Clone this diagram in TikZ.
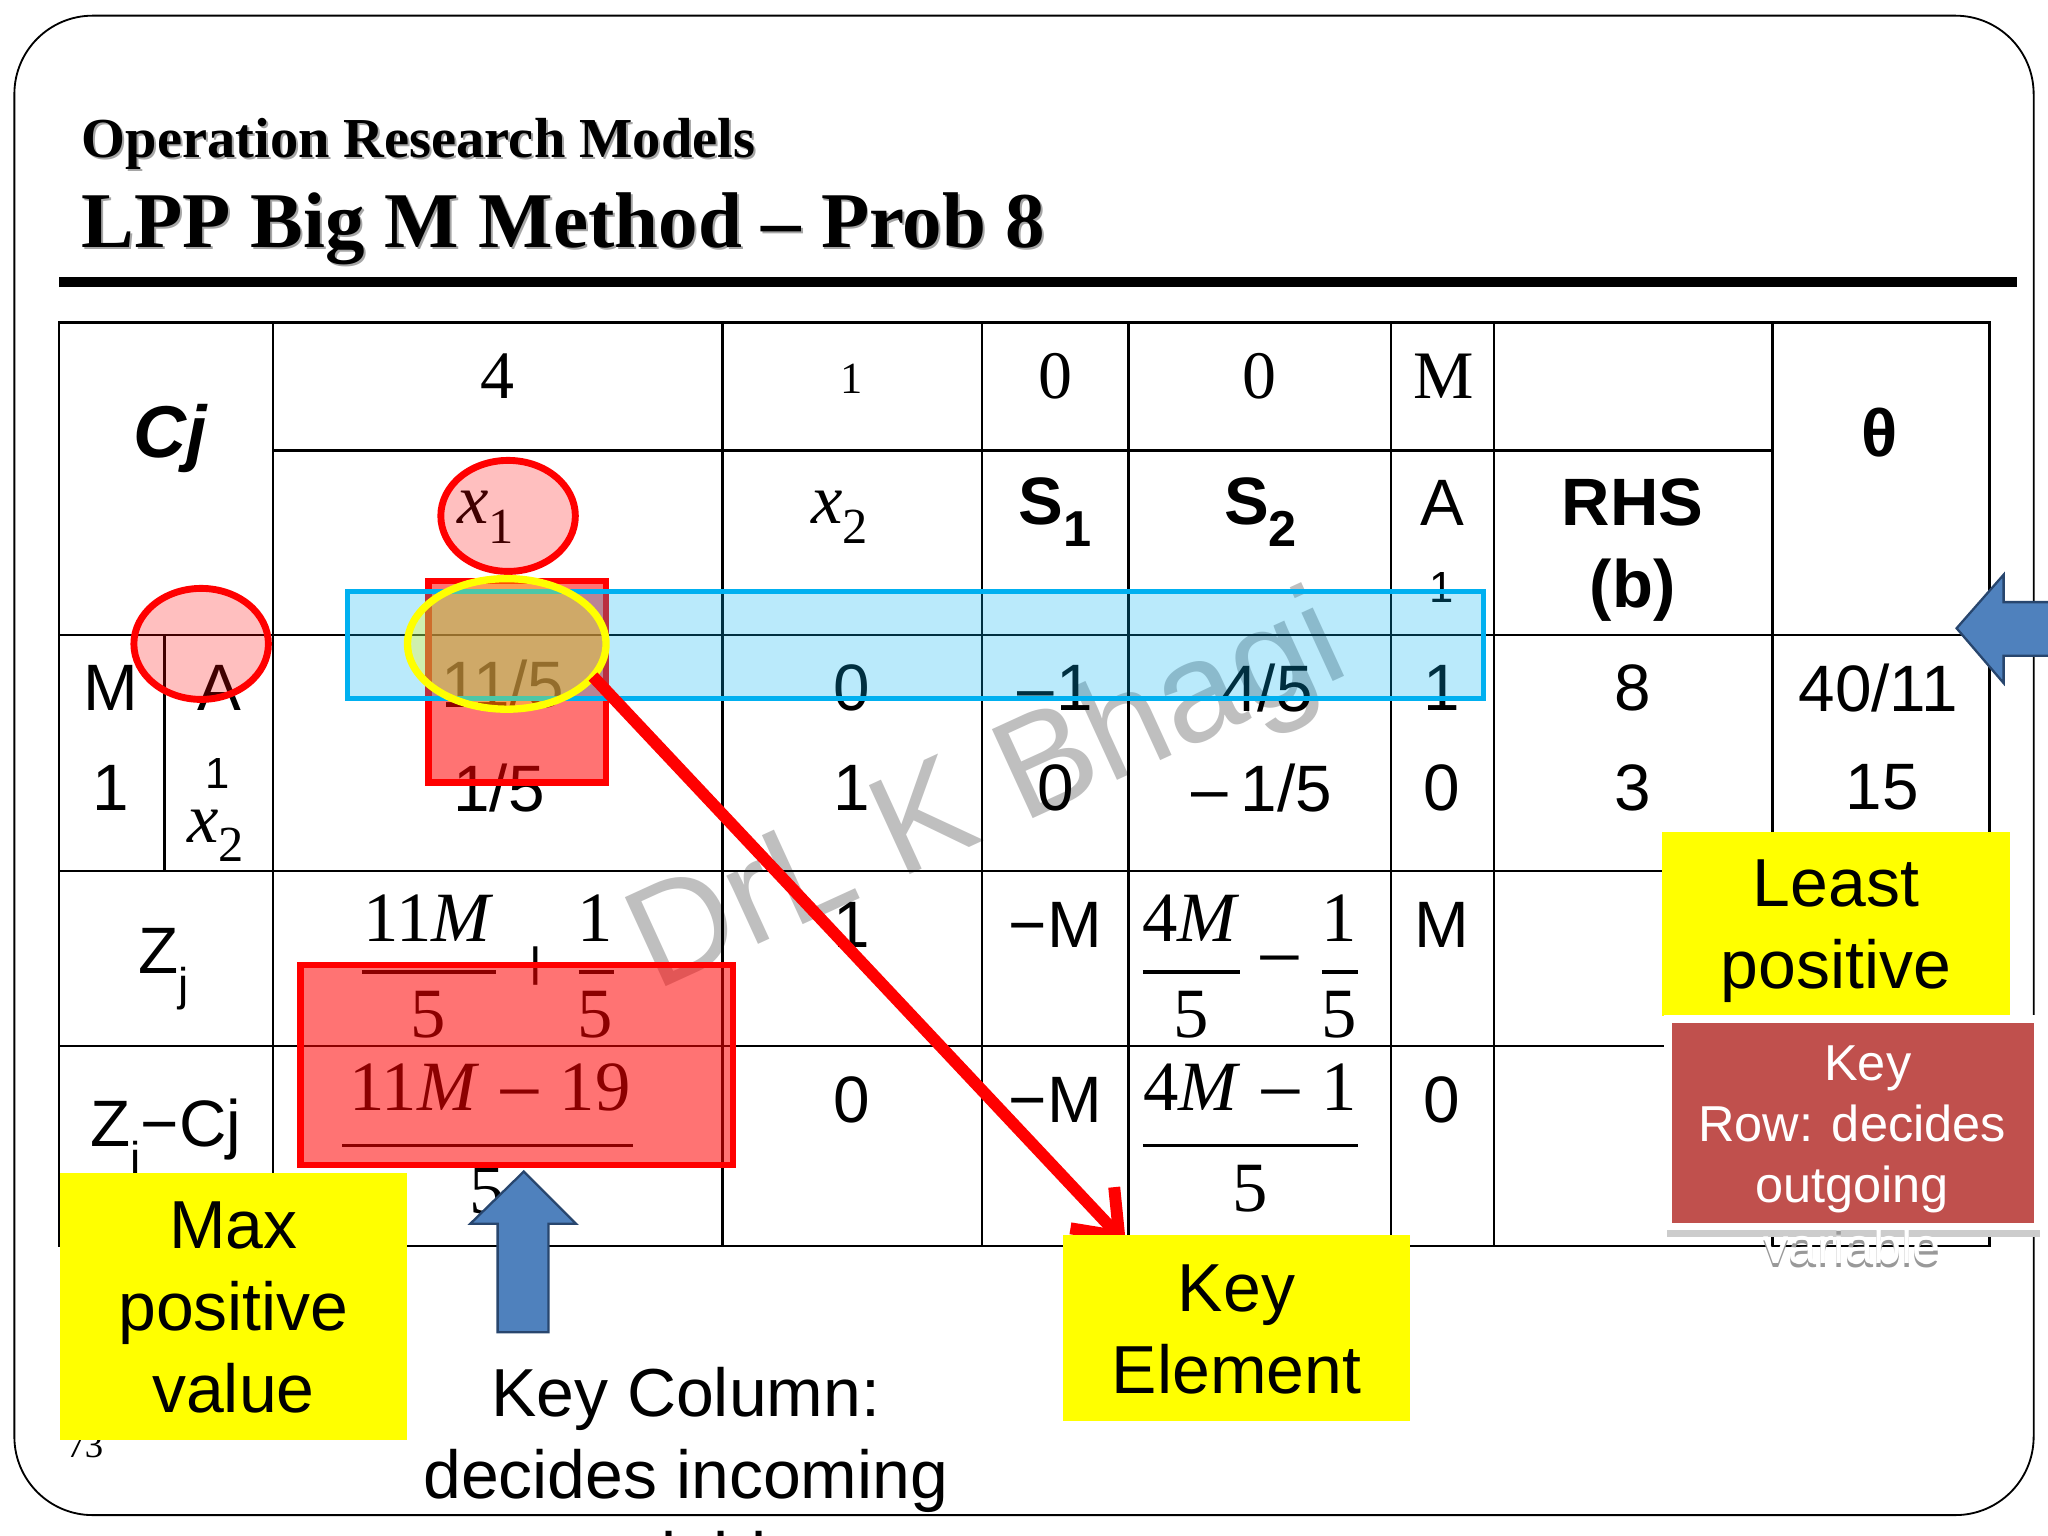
\documentclass[tikz,border=0pt]{standalone}
\usepackage{fontspec}
\setmainfont{Liberation Serif}
\setsansfont{Liberation Sans}
\usetikzlibrary{arrows.meta}
\usetikzlibrary{calc}
\usetikzlibrary{positioning}

\definecolor{keyred}{RGB}{192,80,77}
\definecolor{blockblue}{RGB}{79,129,189}
\definecolor{blockedge}{RGB}{40,70,110}
\definecolor{rowblue}{RGB}{0,176,240}
\definecolor{tagyellow}{RGB}{255,255,0}
\definecolor{ringred}{RGB}{255,0,0}

\newcommand{\lo}[1]{\raisebox{-0.6ex}{\fontsize{11}{11}\selectfont #1}}
\newcommand{\loj}[1]{\raisebox{-0.8ex}{\fontsize{10}{10}\selectfont #1}}
\newcommand{\mn}{\hspace{3.7pt}\raisebox{-2pt}{\fontsize{18}{18}\selectfont −}\hspace{3.7pt}}

\tikzset{
  gridline/.style={line width=0.55pt},
  cell/.style={font=\sffamily\fontsize{14.3}{18}\selectfont, inner sep=0pt},
  boldcell/.style={cell, font=\sffamily\bfseries\fontsize{14.6}{18}\selectfont},
  smallcell/.style={cell, font=\sffamily\fontsize{9.5}{10}\selectfont},
  headcell/.style={font=\fontsize{14.8}{18}\selectfont, inner sep=0pt},
  mathcell/.style={font=\fontsize{15.4}{18}\selectfont, inner sep=0pt},
  opcell/.style={font=\fontsize{18}{18}\selectfont, inner sep=0pt},
  fracbar/.style={line width=0.85pt},
  tag/.style={fill=tagyellow, inner sep=0pt, align=center, anchor=north west,
    font=\sffamily\fontsize{14.8}{17.85}\selectfont},
  pinkring/.style={draw=ringred, line width=1.5pt, fill=ringred, fill opacity=0.25, draw opacity=1},
  redbox/.style={draw=ringred, line width=1.4pt, fill=ringred, fill opacity=0.55, draw opacity=1},
  blockarrow/.style={draw=blockedge, line width=0.5pt, fill=blockblue},
  keyarrow/.style={-{Straight Barb[length=0.30cm,width=0.46cm]}, draw=ringred, line width=2.6pt}
}

\begin{document}
\begin{tikzpicture}[x=1cm,y=-1cm]
    \useasboundingbox (0,0) rectangle (15.68,11.76);

    % slide frame and heading
    \draw[line width=0.4pt, rounded corners=0.6cm] (0.11,0.12) rectangle (15.57,11.60);
    \node[anchor=west, inner sep=0pt, text=black!35, font=\bfseries\fontsize{12.3}{14}\selectfont] (subshadow) at (0.635,1.115) {Operation Research Models};
    \node[anchor=west, inner sep=0pt, font=\bfseries\fontsize{12.3}{14}\selectfont] (subtitle) at (0.62,1.10) {Operation Research Models};
    \node[anchor=west, inner sep=0pt, text=black!35, font=\bfseries\fontsize{17.2}{20}\selectfont] (titleshadow) at (0.635,1.765) {LPP Big M Method -- Prob 8};
    \node[anchor=west, inner sep=0pt, font=\bfseries\fontsize{17.2}{20}\selectfont] (title) at (0.62,1.75) {LPP Big M Method -- Prob 8};
    \fill (0.45,2.12) rectangle (15.44,2.20);

    % watermark
    \node[inner sep=0pt, anchor=base, rotate=24.6, text=black!25, font=\sffamily\fontsize{31}{36}\selectfont] (mark) at (7.69,6.37) {DrL K Bhagi};

    % table grid
    \draw[gridline] (0.45,2.47) rectangle (15.23,9.54);
    \foreach \xx in {2.09,5.53,7.52,8.64,10.65,11.44,13.57}
        \draw[gridline] (\xx,2.47) -- (\xx,9.54);
    \draw[gridline] (2.09,3.45) -- (13.57,3.45);
    \foreach \yy in {4.86,6.67,8.01}
        \draw[gridline] (0.45,\yy) -- (15.23,\yy);
    \draw[gridline] (1.26,4.86) -- (1.26,6.67);

    % cost row
    \node[boldcell, font=\sffamily\bfseries\itshape\fontsize{16}{18}\selectfont] (cj) at (1.30,3.36) {Cj};
    \node[headcell] (c1) at (3.81,2.88) {4};
    \node[headcell, font=\fontsize{9.7}{10}\selectfont] (c2) at (6.52,2.90) {1};
    \node[headcell] (c3) at (8.08,2.88) {0};
    \node[headcell] (c4) at (9.64,2.88) {0};
    \node[headcell] (c5) at (11.05,2.88) {M};
    \node[boldcell] (theta) at (14.39,3.31) {θ};

    % variable row
    \node[mathcell] (h1) at (3.72,3.96) {\textit{x}\lo{1}};
    \node[mathcell] (h2) at (6.43,3.96) {\textit{x}\lo{2}};
    \node[boldcell] (h3) at (8.08,3.92) {S\lo{\bfseries 1}};
    \node[boldcell] (h4) at (9.65,3.92) {S\lo{\bfseries 2}};
    \node[cell] (h5) at (11.04,3.85) {A};
    \node[smallcell] (h5b) at (11.04,4.50) {1};
    \node[boldcell] (rhs) at (12.50,3.85) {RHS};
    \node[boldcell] (rhsb) at (12.50,4.52) {(b)};

    % first row
    \node[cell] (a1) at (0.85,5.27) {M};
    \node[cell] (a2) at (1.68,5.27) {A};
    \node[cell] (a3) at (3.85,5.24) {11/5};
    \node[cell] (a4) at (6.52,5.27) {0};
    \node[cell] (a5) at (8.08,5.27) {–\kern0.05em 1};
    \node[cell] (a6) at (9.70,5.27) {4/5};
    \node[cell] (a7) at (11.04,5.27) {1};
    \node[cell] (a8) at (12.50,5.27) {8};
    \node[cell] (a9) at (14.38,5.27) {40/11};

    % second row
    \node[cell] (b1) at (0.85,6.03) {1};
    \node[smallcell] (b2) at (1.67,5.92) {1};
    \node[mathcell] (b2x) at (1.65,6.40) {\textit{x}\lo{2}};
    \node[cell] (b3) at (3.82,6.03) {1/5};
    \node[cell] (b4) at (6.52,6.03) {1};
    \node[cell] (b5) at (8.08,6.03) {0};
    \node[cell] (b6) at (9.66,6.03) {–\kern0.2em 1/5};
    \node[cell] (b7) at (11.04,6.03) {0};
    \node[cell] (b8) at (12.50,6.03) {3};
    \node[cell] (b9) at (14.41,6.03) {15};

    % Zj row
    \node[cell] (zj) at (1.25,7.42) {Z\loj{j}};
    \node[mathcell] (z1) at (3.28,7.03) {11\textit{M}};
    \draw[fracbar] (2.77,7.44) -- (3.80,7.44);
    \node[mathcell] (z1b) at (3.28,7.77) {5};
    \node[opcell] (z1p) at (4.10,7.43) {+};
    \node[mathcell] (z2) at (4.56,7.03) {1};
    \draw[fracbar] (4.43,7.44) -- (4.70,7.44);
    \node[mathcell] (z2b) at (4.56,7.77) {5};
    \node[cell] (z3) at (6.52,7.08) {1};
    \node[cell] (z4) at (8.08,7.08) {−M};
    \node[mathcell] (z5) at (9.12,7.03) {4\textit{M}};
    \draw[fracbar] (8.75,7.44) -- (9.49,7.44);
    \node[mathcell] (z5b) at (9.12,7.77) {5};
    \node[opcell] (z5m) at (9.80,7.43) {−};
    \node[mathcell] (z6) at (10.25,7.03) {1};
    \draw[fracbar] (10.12,7.44) -- (10.40,7.44);
    \node[mathcell] (z6b) at (10.25,7.77) {5};
    \node[cell] (z7) at (11.04,7.08) {M};

    % Zj-Cj row
    \node[cell] (zc) at (1.27,8.74) {Z\loj{j}−Cj};
    \node[mathcell] (d1) at (3.75,8.36) {11\textit{M}\mn 19};
    \draw[fracbar] (2.62,8.77) -- (4.85,8.77);
    \node[mathcell] (d1b) at (3.73,9.12) {5};
    \node[cell] (d2) at (6.52,8.42) {0};
    \node[cell] (d3) at (8.08,8.42) {−M};
    \node[mathcell] (d4) at (9.57,8.36) {4\textit{M}\mn 1};
    \draw[fracbar] (8.75,8.77) -- (10.40,8.77);
    \node[mathcell] (d4b) at (9.57,9.10) {5};
    \node[cell] (d5) at (11.04,8.42) {0};

    % key column, key row and key element
    \draw[pinkring] (3.89,3.95) ellipse[x radius=0.515, y radius=0.425];
    \draw[pinkring] (1.54,4.93) ellipse[x radius=0.515, y radius=0.425];
    \draw[redbox] (3.28,4.45) rectangle (4.64,5.99);
    \draw[redbox] (2.30,7.39) rectangle (5.61,8.92);
    \draw[draw=rowblue, line width=1.1pt, fill=rowblue, fill opacity=0.27, draw opacity=1] (2.66,4.53) rectangle (11.36,5.35);
    \draw[draw=tagyellow, line width=1.6pt, fill=tagyellow, fill opacity=0.3, draw opacity=1] (3.88,4.93) ellipse[x radius=0.76, y radius=0.50];

    \coordinate (elem) at (4.54,5.18);
    \coordinate (keyend) at (8.62,9.52);
    \draw[keyarrow] (elem) -- (keyend);

    % block arrows
    \coordinate (uptip) at (4.01,8.97);
    \draw[blockarrow] (uptip) -- ++(0.40,0.40) -- ++(-0.21,0) -- ++(0,0.83) -- ++(-0.39,0)
        -- ++(0,-0.83) -- ++(-0.21,0) -- cycle;
    \coordinate (lefttip) at (14.98,4.81);
    \draw[blockarrow] (lefttip) -- ++(0.36,-0.41) -- ++(0,0.21) -- ++(0.60,0) -- ++(0,0.41)
        -- ++(-0.60,0) -- ++(0,0.21) -- cycle;

    % page number and tags
    \node[font=\fontsize{8}{10}\selectfont, inner sep=0pt] (page) at (0.65,11.07) {73};
    \node[tag, minimum width=2.66cm, minimum height=2.05cm] (maxtag) at (0.45,8.97) {\rule{0pt}{10.8pt}Max\\positive\\value};
    \node[tag, minimum width=2.66cm, minimum height=1.41cm] (leasttag) at (12.72,6.36) {\rule{0pt}{13.6pt}Least\\positive};
    \node[tag, minimum width=2.66cm, minimum height=1.42cm] (keytag) at (8.13,9.45) {\rule{0pt}{10.8pt}Key\\Element};

    % key column text
    \node[inner sep=0pt, align=center, anchor=north, font=\sffamily\fontsize{14.8}{17.85}\selectfont] (coltext) at (5.25,10.46) {Key Column:\\decides incoming\\variable};

    % key row box
    \fill[black!20] (12.76,7.84) rectangle (15.62,9.47);
    \node[inner sep=0pt, align=center, anchor=north, text=black!40, font=\sffamily\fontsize{11}{13.3}\selectfont] (rowshadow) at (14.18,8.03) {\hspace*{0.24cm}Key\\Row: decides\\outgoing\\variable};
    \fill[white] (12.74,7.77) rectangle (15.62,9.42);
    \fill[keyred] (12.80,7.83) rectangle (15.57,9.36);
    \node[inner sep=0pt, align=center, anchor=north, text=white, font=\sffamily\fontsize{11}{13.3}\selectfont] (rowtext) at (14.18,8.00) {\hspace*{0.24cm}Key\\Row: decides\\outgoing\\variable};
\end{tikzpicture}
\end{document}
